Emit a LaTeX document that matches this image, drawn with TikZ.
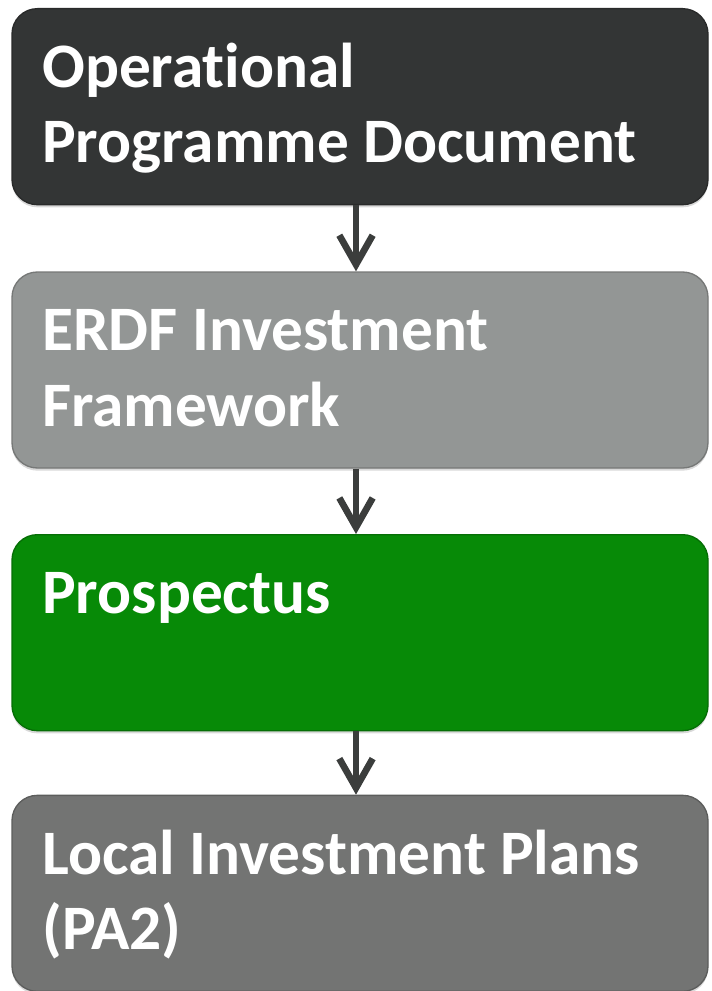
\documentclass[tikz,border=0pt]{standalone}
\usepackage{fontspec}
\setmainfont{Carlito}[RawFeature=-liga, RawFeature=-clig, RawFeature=-calt, RawFeature=-dlig]
\usetikzlibrary{arrows.meta,shadows}
\definecolor{opdark}{HTML}{333535}
\definecolor{erdfgray}{HTML}{939695}
\definecolor{prosgreen}{HTML}{078A07}
\definecolor{localgray}{HTML}{737473}
\definecolor{arrowgray}{HTML}{3B3D3C}

\begin{document}
\begin{tikzpicture}[
	x=1pt, y=1pt,
	box/.style={rounded corners=19pt, minimum width=522pt, minimum height=147pt, inner sep=0pt,
		fill=#1, draw=#1!80!black, line width=1pt,
		drop shadow={shadow xshift=0pt, shadow yshift=-2pt, opacity=0.3}},
	title/.style={anchor=base west, inner sep=0pt, text=white, align=left,
		font=\bfseries\fontsize{47.5}{56.5}\selectfont},
	flow/.style={-{Straight Barb[length=22pt,width=25pt]}, line width=5pt, arrowgray}]
	\useasboundingbox (0,0) rectangle (533.25,-743.25);
	%\draw [help lines] (0,0) grid (533,-743);
	\node[box=opdark] (op) at (270,-80) {};
	\node[title] (opt) at ([xshift=23pt, yshift=-116pt]op.north west) {Operational\\Programme Document};
	\node[box=erdfgray] (erdf) at (270,-277.5) {};
	\node[title] (erdft) at ([xshift=23pt, yshift=-116pt]erdf.north west) {ERDF Investment\\Framework};
	\node[box=prosgreen] (pros) at (270,-474.5) {};
	\node[title] (prost) at ([xshift=23pt, yshift=-59.5pt]pros.north west) {Prospectus};
	\node[box=localgray] (local) at (270,-670) {};
	\node[title] (localt) at ([xshift=23pt, yshift=-116pt]local.north west) {Local Investment Plans\\(PA2)};
	\draw [flow] ([xshift=-3pt]op.south) -- ([xshift=-3pt]erdf.north);
	\draw [flow] ([xshift=-3pt]erdf.south) -- ([xshift=-3pt]pros.north);
	\draw [flow] ([xshift=-3pt]pros.south) -- ([xshift=-3pt]local.north);
\end{tikzpicture}
\end{document}
